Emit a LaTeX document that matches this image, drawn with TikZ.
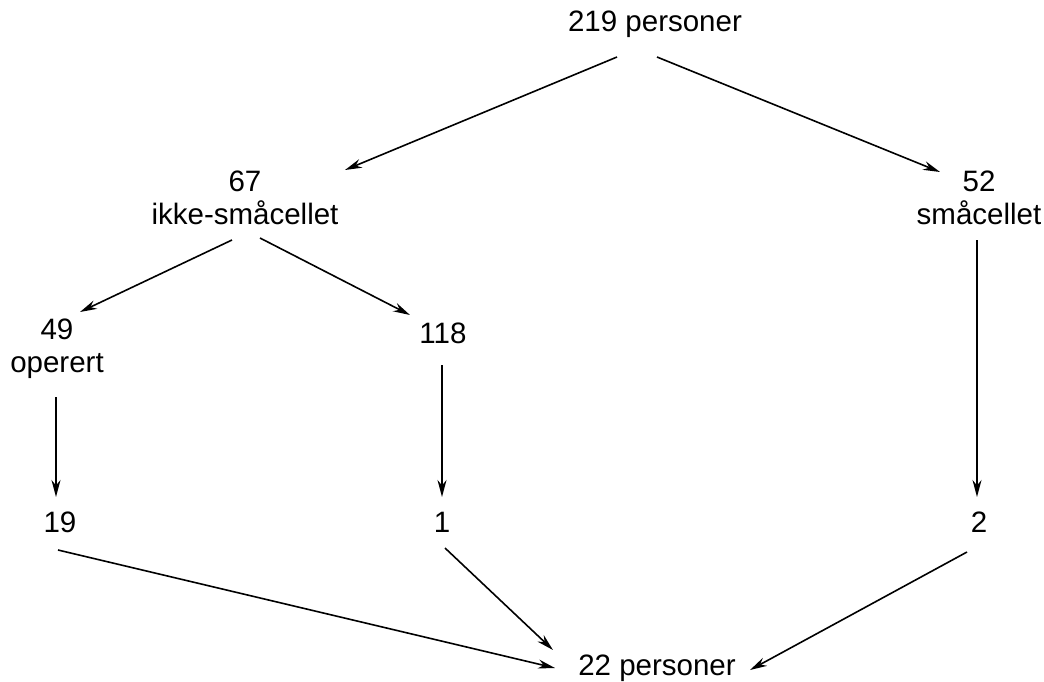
\documentclass[tikz,border=0pt]{standalone}
\usepackage{fontspec}
\setmainfont{Liberation Sans}
\usetikzlibrary{arrows.meta,calc}
\begin{document}
\begin{tikzpicture}[x=1pt,y=-1pt,
  lbl/.style={inner sep=0pt,align=center,font=\fontsize{29.5}{33}\selectfont},
  conn/.style={line width=1.6pt,-{Stealth[length=17pt,width=9pt]}}]
\useasboundingbox (0,0) rectangle (1044,681);
\node[lbl] (top) at (655,24) {219 personer};
\node[lbl] (n67) at (245,198) {67\\ikke-småcellet};
\node[lbl] (n52) at (979,198) {52\\småcellet};
\node[lbl] (n49) at (57,349) {49\\operert};
\node[lbl] (n118) at (443,333) {118};
\node[lbl] (n19) at (60,522) {19};
\node[lbl] (n1) at (442,522) {1};
\node[lbl] (n2) at (979,522) {2};
\node[lbl] (bot) at (657,668) {22 personer};
\draw[conn] ($(top)+(-38,33)$) -- ($(n67)+(100,-28)$);
\draw[conn] ($(top)+(2,33)$) -- ($(n52)+(-39,-26)$);
\draw[conn] ($(n67)+(-13,42)$) -- ($(n49)+(23,-37)$);
\draw[conn] ($(n67)+(15,40)$) -- ($(n118)+(-33,-18)$);
\draw[conn] ($(n49)+(-1,48)$) -- ($(n19)+(-4,-25)$);
\draw[conn] ($(n118)+(-1,32)$) -- ($(n1)+(0,-25)$);
\draw[conn] ($(n52)+(-2,42)$) -- ($(n2)+(-2,-25)$);
\draw[conn] ($(n19)+(-2,28)$) -- ($(bot)+(-102,0)$);
\draw[conn] ($(n1)+(3,26)$) -- ($(bot)+(-104,-18)$);
\draw[conn] ($(n2)+(-12,30)$) -- ($(bot)+(93,2)$);
\end{tikzpicture}
\end{document}
